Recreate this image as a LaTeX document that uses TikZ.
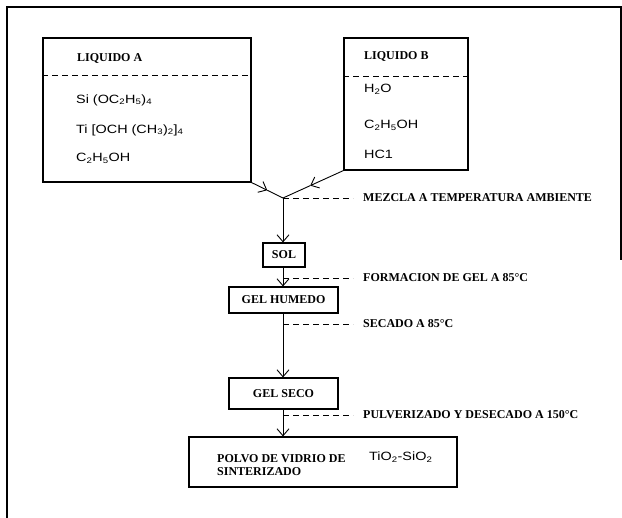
\documentclass[tikz,border=0pt]{standalone}
\usepackage{fontspec}
\setmainfont{Liberation Serif}
\newfontfamily\formfont[FakeStretch=1.2]{Liberation Sans}
\usetikzlibrary{arrows.meta,calc}
\tikzset{
  x=1pt,y=-1pt,
  frame/.style={line width=1.4pt},
  box/.style={draw,line width=1.1pt,rectangle,inner sep=0pt},
  flow/.style={line width=0.9pt,-{Straight Barb[length=7pt,width=12pt,line width=0.9pt]}},
  plain/.style={line width=0.9pt},
  note/.style={dashed,line width=0.8pt,dash pattern=on 6pt off 4pt},
  lbl/.style={font=\bfseries\fontsize{12}{14}\selectfont,inner sep=0pt,anchor=west},
  form/.style={font=\formfont\fontsize{12}{14}\selectfont,inner sep=0pt,anchor=west},
}
\begin{document}
\begin{tikzpicture}
\useasboundingbox (0,0) rectangle (622,518);
% frame
\draw[frame] (7,518) -- (7,7) -- (621,7) -- (621,260);
% boxes
\node[box,minimum width=208pt,minimum height=144pt] (A) at (147,110) {};
\node[box,minimum width=124pt,minimum height=132pt] (B) at (406,104) {};
\draw[note] (A.west |- 0,75) -- (A.east |- 0,75);
\draw[note] (B.west |- 0,76) -- (B.east |- 0,76);
\node[lbl] (Ah) at (77,59) {LIQUIDO A};
\node[lbl] (Bh) at (364,57) {LIQUIDO B};
\node[form] (A1) at (76,100) {Si (OC\textsubscript{2}H\textsubscript{5})\textsubscript{4}};
\node[form] (A2) at (76,130) {Ti [OCH (CH\textsubscript{3})\textsubscript{2}]\textsubscript{4}};
\node[form] (A3) at (76,158) {C\textsubscript{2}H\textsubscript{5}OH};
\node[form] (B1) at (364,89) {H\textsubscript{2}O};
\node[form] (B2) at (364,125) {C\textsubscript{2}H\textsubscript{5}OH};
\node[form] (B3) at (364,154) {HC1};
% junction
\coordinate (J) at (283,198);
\coordinate (Am) at ($(A.south east)!0.5!(J)$);
\coordinate (Bm) at ($(B.south west)!0.55!(J)$);
\draw[flow] (A.south east) -- (Am);
\draw[plain] (Am) -- (J);
\draw[flow] (B.south west) -- (Bm);
\draw[plain] (Bm) -- (J);
% process boxes
\node[box,minimum width=42pt,minimum height=24pt] (sol) at (284,255) {};
\node[lbl,anchor=center] (solt) at (sol.center) {SOL};
\node[box,minimum width=109pt,minimum height=26pt] (hum) at (283.5,300) {};
\node[lbl,anchor=center] (humt) at (hum.center) {GEL HUMEDO};
\node[box,minimum width=109pt,minimum height=31pt] (seco) at (283.5,393.5) {};
\node[lbl,anchor=center] (secot) at (seco.center) {GEL SECO};
\node[box,minimum width=268pt,minimum height=50pt] (fin) at (323,462) {};
\node[lbl] (fin1) at (217,459) {POLVO DE VIDRIO DE};
\node[lbl] (fin2) at (217,472) {SINTERIZADO};
\node[form] (fin3) at (369,457) {TiO\textsubscript{2}-SiO\textsubscript{2}};
% flow
\draw[flow] (J) -- (J |- sol.north);
\draw[flow] (sol.south -| 283,0) -- (hum.north -| 283,0);
\draw[flow] (hum.south -| 283,0) -- (seco.north -| 283,0);
\draw[flow] (seco.south -| 283,0) -- (fin.north -| 283,0);
% notes
\coordinate (n1) at (283,198);
\coordinate (n2) at (283,278);
\coordinate (n3) at (283,324);
\coordinate (n4) at (283,415);
\node[lbl] (t1) at (363,198) {MEZCLA A TEMPERATURA AMBIENTE};
\node[lbl] (t2) at (363,278) {FORMACION DE GEL A 85\textdegree C};
\node[lbl] (t3) at (363,324) {SECADO A 85\textdegree C};
\node[lbl] (t4) at (363,415) {PULVERIZADO Y DESECADO A 150\textdegree C};
\draw[note] (n1) -- (353,198);
\draw[note] (n2) -- (353,278);
\draw[note] (n3) -- (353,324);
\draw[note] (n4) -- (353,415);
\end{tikzpicture}
\end{document}
